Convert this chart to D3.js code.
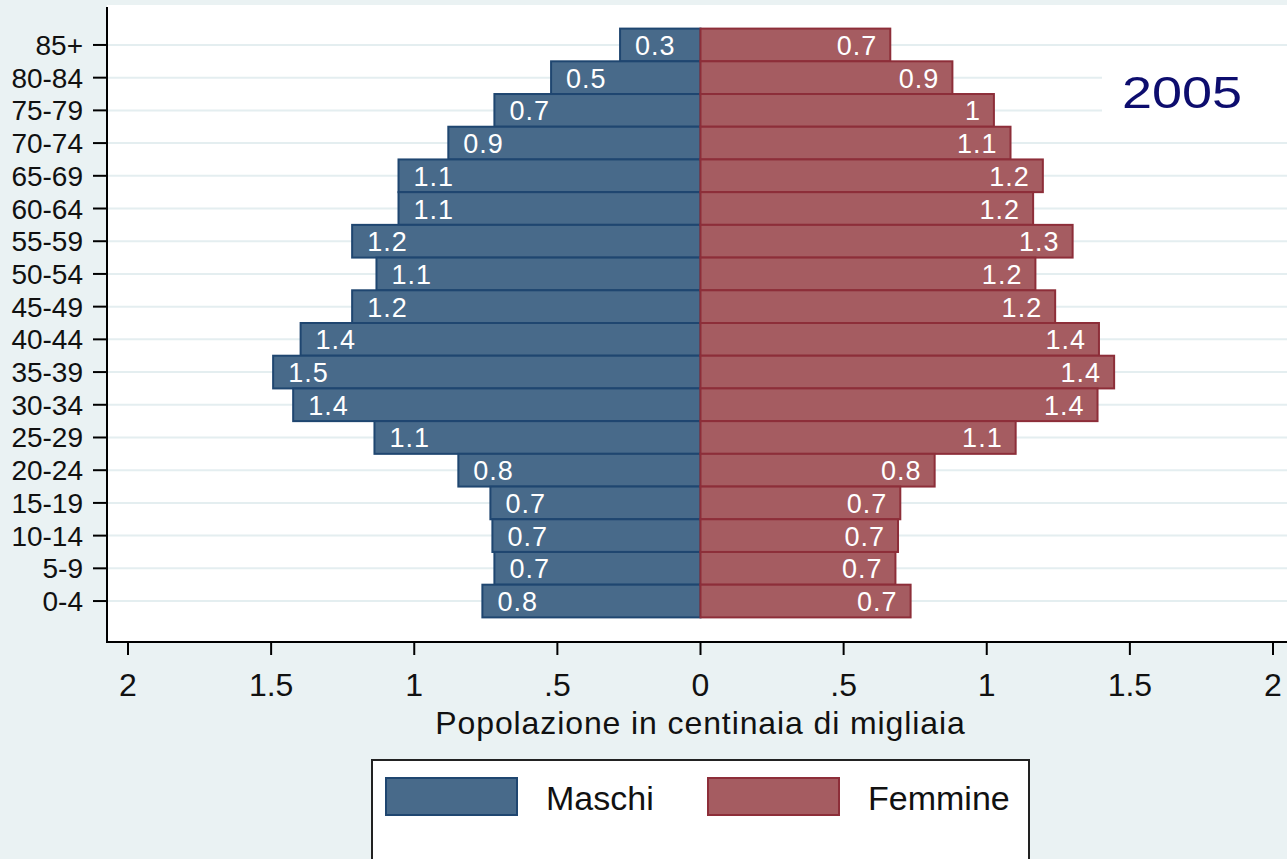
<!DOCTYPE html>
<html>
<head>
<meta charset="utf-8">
<script src="https://cdn.jsdelivr.net/npm/d3@7"></script>
<style>
  body { margin: 0; overflow: hidden; background: #eaf2f3; }
  text { font-family: "Liberation Sans", Arial, sans-serif; }
</style>
</head>
<body>
<script>
// age classes, top to bottom
var ageGroups = ["85+", "80-84", "75-79", "70-74", "65-69", "60-64", "55-59", "50-54", "45-49",
    "40-44", "35-39", "30-34", "25-29", "20-24", "15-19", "10-14", "5-9", "0-4"];

// population in hundreds of thousands
var maschi = [0.281, 0.522, 0.72, 0.881, 1.055, 1.055, 1.217, 1.132, 1.217,
    1.397, 1.493, 1.423, 1.139, 0.846, 0.734, 0.727, 0.72, 0.762];
var femmine = [0.663, 0.88, 1.025, 1.083, 1.196, 1.162, 1.30, 1.17, 1.239,
    1.392, 1.445, 1.387, 1.101, 0.818, 0.698, 0.69, 0.681, 0.734];

var xTickValues = [-2, -1.5, -1, -0.5, 0, 0.5, 1, 1.5, 2];
var legendLabels = ["Maschi", "Femmine"];
var yearLabel = "2005";

var width = 1287, height = 859;
var maleFill = "#486a8a", maleStroke = "#1f4670";
var femaleFill = "#a55c61", femaleStroke = "#8d2e39";

var svg = d3.select("body")
    .append("svg")
    .attr("width", width)
    .attr("height", height);

svg.append("rect")
    .attr("width", width)
    .attr("height", height)
    .attr("fill", "#eaf2f3");

// plot region
var plotLeft = 107, plotTop = 5, plotBottom = 642;
svg.append("rect")
    .attr("x", plotLeft)
    .attr("y", plotTop)
    .attr("width", width - plotLeft)
    .attr("height", plotBottom - plotTop)
    .attr("fill", "#ffffff");

var x = d3.scaleLinear()
    .domain([-2, 2])
    .range([128, 1273]);

var y = d3.scaleBand()
    .domain(ageGroups)
    .range([28.6, 617.4])
    .padding(0);

var mid = function(d) { return y(d) + y.bandwidth() / 2; };

// horizontal grid
svg.append("g")
    .selectAll("line")
    .data(ageGroups)
    .enter()
    .append("line")
    .attr("x1", plotLeft)
    .attr("x2", width)
    .attr("y1", mid)
    .attr("y2", mid)
    .attr("stroke", "#e4eef0")
    .attr("stroke-width", 2);

// white box behind the year
svg.append("rect")
    .attr("x", 1102)
    .attr("y", 49)
    .attr("width", width - 1102)
    .attr("height", 82)
    .attr("fill", "#ffffff");

svg.append("text")
    .attr("transform", "translate(1122,108) scale(1.2,1)")
    .attr("font-size", 45)
    .attr("fill", "#0d0d6e")
    .text(yearLabel);

var rows = ageGroups.map(function(g, i) {
    return {group: g, m: maschi[i], f: femmine[i]};
});

var fmt = function(v) { return String(+v.toFixed(1)); };

// bars
var bars = svg.append("g");
bars.selectAll(".male")
    .data(rows)
    .enter()
    .append("rect")
    .attr("class", "male")
    .attr("x", function(d) { return x(-d.m); })
    .attr("y", function(d) { return y(d.group); })
    .attr("width", function(d) { return x(0) - x(-d.m); })
    .attr("height", y.bandwidth())
    .attr("fill", maleFill)
    .attr("stroke", maleStroke)
    .attr("stroke-width", 2);

bars.selectAll(".female")
    .data(rows)
    .enter()
    .append("rect")
    .attr("class", "female")
    .attr("x", x(0))
    .attr("y", function(d) { return y(d.group); })
    .attr("width", function(d) { return x(d.f) - x(0); })
    .attr("height", y.bandwidth())
    .attr("fill", femaleFill)
    .attr("stroke", femaleStroke)
    .attr("stroke-width", 2);

// value labels
bars.selectAll(".mlab")
    .data(rows)
    .enter()
    .append("text")
    .attr("x", function(d) { return x(-d.m) + 15; })
    .attr("y", function(d) { return mid(d.group) + 10; })
    .attr("font-size", 27)
    .attr("letter-spacing", 1)
    .attr("fill", "#ffffff")
    .text(function(d) { return fmt(d.m); });

bars.selectAll(".flab")
    .data(rows)
    .enter()
    .append("text")
    .attr("x", function(d) { return x(d.f) - 13; })
    .attr("y", function(d) { return mid(d.group) + 10; })
    .attr("font-size", 27)
    .attr("letter-spacing", 1)
    .attr("text-anchor", "end")
    .attr("fill", "#ffffff")
    .text(function(d) { return fmt(d.f); });

// y axis
var yAxis = svg.append("g");
yAxis.append("line")
    .attr("x1", plotLeft).attr("x2", plotLeft)
    .attr("y1", 7).attr("y2", plotBottom)
    .attr("stroke", "#000").attr("stroke-width", 2);
yAxis.selectAll(".tick")
    .data(ageGroups)
    .enter()
    .append("line")
    .attr("x1", 93).attr("x2", plotLeft)
    .attr("y1", mid).attr("y2", mid)
    .attr("stroke", "#000").attr("stroke-width", 2);
yAxis.selectAll("text")
    .data(ageGroups)
    .enter()
    .append("text")
    .attr("x", 83)
    .attr("y", function(d) { return mid(d) + 10; })
    .attr("text-anchor", "end")
    .attr("font-size", 28)
    .attr("fill", "#111")
    .text(function(d) { return d; });

// x axis
var xAxis = svg.append("g");
xAxis.append("line")
    .attr("x1", plotLeft - 1).attr("x2", width)
    .attr("y1", plotBottom).attr("y2", plotBottom)
    .attr("stroke", "#000").attr("stroke-width", 2);
xAxis.selectAll(".tick")
    .data(xTickValues)
    .enter()
    .append("line")
    .attr("x1", function(d) { return x(d); })
    .attr("x2", function(d) { return x(d); })
    .attr("y1", plotBottom).attr("y2", plotBottom + 13)
    .attr("stroke", "#000").attr("stroke-width", 2);
xAxis.selectAll("text")
    .data(xTickValues)
    .enter()
    .append("text")
    .attr("x", function(d) { return x(d); })
    .attr("y", 696)
    .attr("text-anchor", "middle")
    .attr("font-size", 32)
    .attr("fill", "#111")
    .text(function(d) { return String(Math.abs(d)).replace(/^0\./, "."); });

svg.append("text")
    .attr("x", x(0))
    .attr("y", 734)
    .attr("text-anchor", "middle")
    .attr("font-size", 32)
    .attr("letter-spacing", 0.9)
    .attr("fill", "#111")
    .text("Popolazione in centinaia di migliaia");

// legend
var legend = svg.append("g");
legend.append("rect")
    .attr("x", 372).attr("y", 760)
    .attr("width", 657).attr("height", 120)
    .attr("fill", "#ffffff")
    .attr("stroke", "#222").attr("stroke-width", 2);

var legendItems = [
    {label: legendLabels[0], fill: maleFill, stroke: maleStroke, x: 386},
    {label: legendLabels[1], fill: femaleFill, stroke: femaleStroke, x: 708}
];
legend.selectAll(".swatch")
    .data(legendItems)
    .enter()
    .append("rect")
    .attr("x", function(d) { return d.x; })
    .attr("y", 778)
    .attr("width", 131)
    .attr("height", 37)
    .attr("fill", function(d) { return d.fill; })
    .attr("stroke", function(d) { return d.stroke; })
    .attr("stroke-width", 2);
legend.selectAll(".ltext")
    .data(legendItems)
    .enter()
    .append("text")
    .attr("x", function(d) { return d.x + 160; })
    .attr("y", 810)
    .attr("font-size", 34)
    .attr("fill", "#111")
    .text(function(d) { return d.label; });
</script>
</body>
</html>
